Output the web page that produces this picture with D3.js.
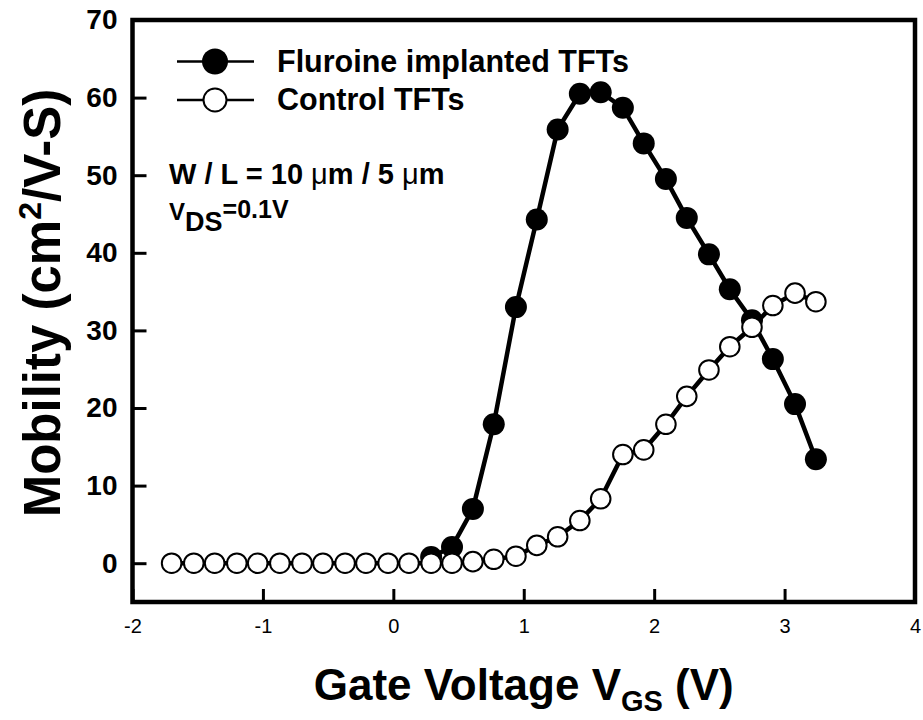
<!DOCTYPE html>
<html>
<head>
<meta charset="utf-8">
<script src="https://cdn.jsdelivr.net/npm/d3@7"></script>
<style>
  body { margin: 0; background: #fff; }
  svg { font-family: Arial, "Liberation Sans", Helvetica, sans-serif; }
</style>
</head>
<body>
<div id="chart"></div>
<script>
// Fluorine implanted TFTs
const fluoVgs = [0.29, 0.45, 0.61, 0.77, 0.94, 1.10, 1.26, 1.43, 1.59, 1.76, 1.92, 2.09, 2.25, 2.42, 2.58, 2.75, 2.91, 3.08, 3.24];
const fluoMob = [0.8, 2.1, 7.0, 17.9, 33.0, 44.3, 55.9, 60.5, 60.7, 58.7, 54.1, 49.5, 44.5, 39.8, 35.3, 31.3, 26.3, 20.5, 13.4];

// Control TFTs
const ctrlVgs = [-1.70, -1.53, -1.37, -1.20, -1.04, -0.87, -0.70, -0.54, -0.37, -0.21, -0.04, 0.12, 0.29,
  0.45, 0.61, 0.77, 0.94, 1.10, 1.26, 1.43, 1.59, 1.76, 1.92, 2.09, 2.25, 2.42, 2.58, 2.75, 2.91, 3.08, 3.24];
const ctrlMob = [0, 0, 0, 0, 0, 0, 0, 0, 0, 0, 0, 0, 0,
  0, 0.2, 0.5, 0.9, 2.3, 3.4, 5.5, 8.3, 14.0, 14.6, 17.9, 21.5, 24.9, 27.9, 30.4, 33.2, 34.8, 33.7];

const xTicks = [-2, -1, 0, 1, 2, 3, 4];
const yTicks = [0, 10, 20, 30, 40, 50, 60, 70];
const legendLabels = ['Fluroine implanted TFTs', 'Control TFTs'];

const width = 923;
const height = 720;
const plot = { left: 132.5, right: 915, top: 20, bottom: 602 };

const x = d3.scaleLinear().domain([-2, 4]).range([plot.left, plot.right]);
const y = d3.scaleLinear().domain([-5, 70]).range([plot.bottom, plot.top]);

const svg = d3.select('#chart')
  .append('svg')
  .attr('width', width)
  .attr('height', height);

// axes (ticks point inward)
const xAxis = svg.append('g')
  .attr('transform', `translate(0,${plot.bottom})`)
  .call(d3.axisBottom(x).tickValues(xTicks).tickSize(-13).tickPadding(17).tickFormat(d => String(d)));
xAxis.select('.domain').remove();
xAxis.selectAll('line').attr('stroke', '#000').attr('stroke-width', 3);
xAxis.selectAll('text').attr('font-size', 20).attr('fill', '#000');

const yAxis = svg.append('g')
  .attr('transform', `translate(${plot.left},0)`)
  .call(d3.axisLeft(y).tickValues(yTicks).tickSize(-14).tickPadding(15));
yAxis.select('.domain').remove();
yAxis.selectAll('line').attr('stroke', '#000').attr('stroke-width', 3);
yAxis.selectAll('text').attr('font-size', 28).attr('font-weight', 'bold').attr('fill', '#000');

// frame
svg.append('rect')
  .attr('x', plot.left)
  .attr('y', plot.top)
  .attr('width', plot.right - plot.left)
  .attr('height', plot.bottom - plot.top)
  .attr('fill', 'none')
  .attr('stroke', '#000')
  .attr('stroke-width', 4.5);

const line = d3.line()
  .x(d => x(d[0]))
  .y(d => y(d[1]));

const fluo = fluoVgs.map((v, i) => [v, fluoMob[i]]);
const ctrl = ctrlVgs.map((v, i) => [v, ctrlMob[i]]);

// filled series
svg.append('path')
  .datum(fluo)
  .attr('fill', 'none')
  .attr('stroke', '#000')
  .attr('stroke-width', 4.5)
  .attr('d', line);

svg.selectAll('.fluo-dot')
  .data(fluo)
  .enter()
  .append('circle')
  .attr('class', 'fluo-dot')
  .attr('cx', d => x(d[0]))
  .attr('cy', d => y(d[1]))
  .attr('r', 11)
  .attr('fill', '#000');

// open series
svg.append('path')
  .datum(ctrl)
  .attr('fill', 'none')
  .attr('stroke', '#000')
  .attr('stroke-width', 4.5)
  .attr('d', line);

svg.selectAll('.ctrl-dot')
  .data(ctrl)
  .enter()
  .append('circle')
  .attr('class', 'ctrl-dot')
  .attr('cx', d => x(d[0]))
  .attr('cy', d => y(d[1]))
  .attr('r', 9.8)
  .attr('fill', '#fff')
  .attr('stroke', '#000')
  .attr('stroke-width', 2);

// legend
const legend = svg.append('g');
const legendRows = legendLabels.map((label, i) => ({ label, filled: i === 0, cy: [61.5, 100][i] }));
legendRows.forEach(row => {
  legend.append('line')
    .attr('x1', 177).attr('x2', 254)
    .attr('y1', row.cy).attr('y2', row.cy)
    .attr('stroke', '#000').attr('stroke-width', 2.5);
  legend.append('circle')
    .attr('cx', 215).attr('cy', row.cy)
    .attr('r', row.filled ? 13 : 11.5)
    .attr('fill', row.filled ? '#000' : '#fff')
    .attr('stroke', '#000')
    .attr('stroke-width', row.filled ? 0 : 2);
  legend.append('text')
    .attr('x', 277).attr('y', row.cy + 10)
    .attr('font-size', 30.5).attr('font-weight', 'bold')
    .text(row.label);
});

// annotations
const wl = svg.append('text')
  .attr('x', 169).attr('y', 184)
  .attr('font-size', 29).attr('font-weight', 'bold');
wl.append('tspan').text('W / L = 10 ');
wl.append('tspan').attr('font-weight', 'normal').text('\u03bc');
wl.append('tspan').text('m / 5 ');
wl.append('tspan').attr('font-weight', 'normal').text('\u03bc');
wl.append('tspan').text('m');

const vds = svg.append('text')
  .attr('x', 169).attr('y', 220)
  .attr('font-size', 24).attr('font-weight', 'bold');
vds.append('tspan').text('V');
vds.append('tspan').attr('dy', 11).attr('font-size', 27).text('DS');
vds.append('tspan').attr('dy', -13).attr('font-size', 25).text('=0.1V');

// axis titles
const xTitle = svg.append('text')
  .attr('x', (plot.left + plot.right) / 2)
  .attr('y', 700)
  .attr('text-anchor', 'middle')
  .attr('font-size', 44)
  .attr('font-weight', 'bold');
xTitle.append('tspan').text('Gate Voltage V');
xTitle.append('tspan').attr('dy', 11).attr('font-size', 29).text('GS');
xTitle.append('tspan').attr('dy', -11).text(' (V)');

const yTitle = svg.append('text')
  .attr('transform', `translate(60,${(plot.top + plot.bottom) / 2 - 8}) rotate(-90)`)
  .attr('text-anchor', 'middle')
  .attr('font-size', 51)
  .attr('font-weight', 'bold');
yTitle.append('tspan').text('Mobility (cm');
yTitle.append('tspan').attr('dy', -19).attr('font-size', 32).text('2');
yTitle.append('tspan').attr('dy', 19).text('/V-S)');
</script>
</body>
</html>
